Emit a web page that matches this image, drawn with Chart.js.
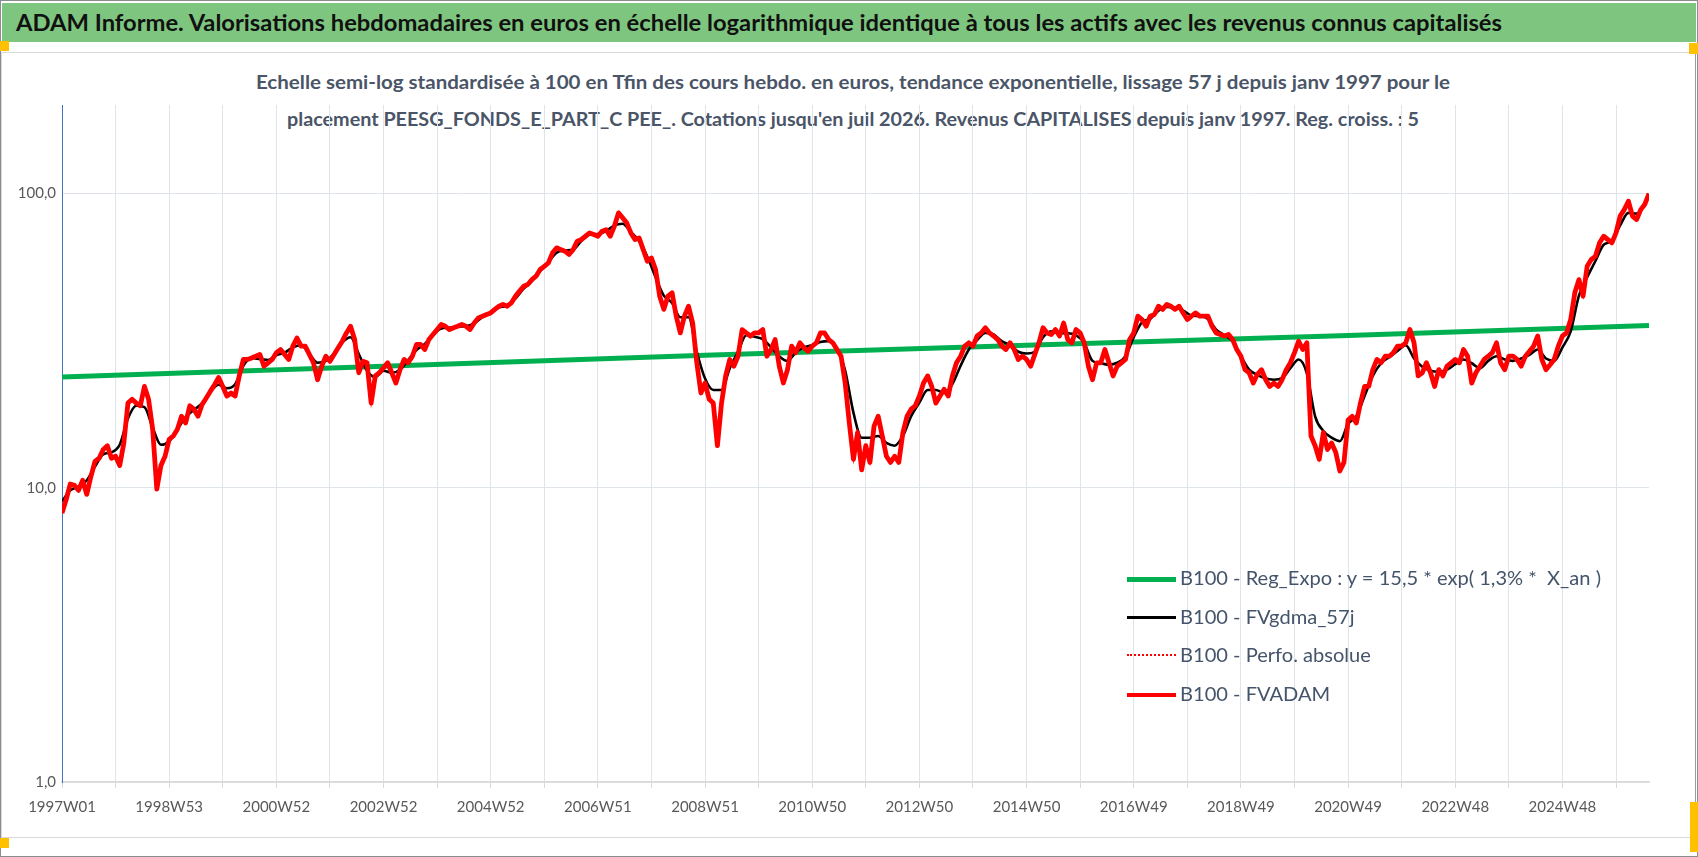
<!DOCTYPE html>
<html>
<head>
<meta charset="utf-8">
<script src="https://cdn.jsdelivr.net/npm/chart.js@4.4.1/dist/chart.umd.min.js"></script>
<style>
html,body{margin:0;padding:0;background:#fff;}
#page{position:relative;width:1698px;height:857px;overflow:hidden;background:#fff;font-family:Lato,'Open Sans',sans-serif;}
#outer{position:absolute;left:0;top:0;width:1696px;height:855px;border:1px solid #8c8c8c;}
#band{position:absolute;left:2px;top:3px;width:1694px;height:39px;background:#7ec67f;}
#title{position:absolute;left:16px;top:9px;font:bold 22px Lato;color:#111;white-space:nowrap;transform-origin:0 0;}
#frame{position:absolute;left:1px;top:52px;width:1693px;height:784px;border:1px solid #d9d9d9;border-right-color:#9a9a9a;}
.sub{position:absolute;left:853px;white-space:nowrap;font:bold 18px Lato;color:#4a5567;transform-origin:50% 50%;}
.hdl{position:absolute;background:#ffc000;}
#chartBox{position:absolute;left:0;top:0;width:1698px;height:857px;}
.lg{position:absolute;left:1127px;height:30px;}
.lg .smp{position:absolute;left:0;width:49px;top:14px;}
.lg .txt{position:absolute;left:53px;top:2px;font:20px Lato;color:#44546a;white-space:pre;transform-origin:0 50%;}
</style>
</head>
<body>
<div id="page">
  <div id="outer"></div>
  <div id="band"></div>
  <div id="title">ADAM Informe. Valorisations hebdomadaires en euros en échelle logarithmique identique à tous les actifs avec les revenus connus capitalisés</div>
  <div id="frame"></div>
  <div class="sub" id="sub1" style="top:71px">Echelle semi-log standardisée à 100 en Tfin des cours hebdo. en euros, tendance exponentielle, lissage 57 j depuis janv 1997 pour le</div>
  <div class="sub" id="sub2" style="top:108px">placement PEESG_FONDS_E_PART_C PEE_. Cotations jusqu'en juil 2026. Revenus CAPITALISES depuis janv 1997. Reg. croiss. : 5</div>
  <div id="chartBox"><canvas id="c"></canvas></div>
  <div id="legend"></div>
  <div class="hdl" style="left:0;top:41px;width:9px;height:10px"></div>
  <div class="hdl" style="left:1689px;top:43px;width:9px;height:11px"></div>
  <div class="hdl" style="left:0;top:838px;width:9px;height:10px"></div>
  <div class="hdl" style="left:1690px;top:802px;width:8px;height:50px"></div>
</div>
<script>
// week ticks: one grid line per 52 weeks, a label every 104 weeks
const tickLabels=['1997W01','1998W53','2000W52','2002W52','2004W52','2006W51','2008W51','2010W50','2012W50','2014W50','2016W49','2018W49','2020W49','2022W48','2024W48'];
const lastWeek=1540;

// B100 - FVADAM, one value every 4 weeks from 1997W01 (13 per year)
const fvadamStep=4;
const fvadam=[
 8.2,9.1,10.3,10.2,9.8,10.6,9.5,10.9,12.3,12.6,13.5,13.9,12.6,
 12.8,11.9,14.2,19.4,20.0,19.4,19.0,22.1,20.0,15.8,9.9,11.9,12.8,
 14.6,15.0,15.8,17.5,16.6,19.0,18.5,17.5,19.2,20.2,21.3,22.4,23.7,
 22.1,20.5,21.0,20.5,24.0,27.3,27.3,27.6,28.0,28.4,25.9,26.6,27.3,
 28.8,29.5,28.4,27.3,30.3,32.3,30.3,30.3,28.4,26.6,23.3,25.9,28.0,
 26.9,28.4,29.9,31.5,33.6,35.4,31.9,24.6,26.9,26.6,19.4,24.0,24.6,
 25.6,26.6,24.6,22.7,25.2,27.3,26.6,28.0,30.7,30.7,29.5,31.9,33.2,
 34.5,35.9,35.4,34.5,35.0,35.4,35.9,35.4,34.5,36.3,37.8,38.3,38.8,
 39.3,40.4,41.4,42.0,41.4,42.5,44.8,46.6,48.4,49.1,51.0,52.4,55.2,
 56.6,58.1,62.9,65.4,64.5,63.7,62.1,64.5,68.9,69.8,71.6,73.5,72.6,
 71.6,74.5,75.4,71.6,77.4,86.0,82.7,79.5,73.5,69.8,70.7,64.5,58.9,
 60.4,55.2,44.8,40.4,44.8,46.0,38.3,33.6,38.3,41.4,36.3,26.6,21.0,
 22.7,20.0,19.4,13.9,19.4,24.0,27.3,25.9,28.0,34.5,33.6,32.8,33.6,
 33.6,34.5,28.0,29.5,31.9,25.9,22.7,25.2,30.3,28.8,31.1,29.9,29.1,
 30.3,31.1,33.6,33.6,31.9,31.1,29.5,28.0,22.7,16.6,12.5,15.4,11.5,
 13.9,12.2,16.2,17.5,15.0,12.8,12.2,12.8,12.2,15.4,17.5,18.5,19.0,
 20.5,22.7,24.0,22.1,19.4,20.5,21.6,20.5,24.0,26.6,28.0,30.3,31.1,
 30.3,32.8,33.6,35.0,33.6,32.8,31.9,30.3,29.5,31.1,29.5,27.3,28.0,
 27.3,25.9,28.4,31.1,35.0,33.6,33.2,34.5,32.8,36.3,31.9,31.1,34.5,
 33.6,31.1,25.9,23.3,26.6,26.6,29.5,26.6,24.0,25.9,26.6,27.3,31.9,
 33.6,38.3,37.3,35.4,38.3,38.8,41.4,40.4,42.0,41.4,40.4,41.4,39.3,
 37.3,38.3,39.3,38.3,38.3,38.3,35.4,33.6,33.2,32.8,33.2,31.9,29.5,
 28.0,25.2,24.6,22.7,24.3,25.2,23.3,22.1,22.7,22.1,23.3,25.2,26.6,
 28.8,31.5,29.5,31.1,15.0,13.9,12.5,15.4,13.5,14.2,13.2,11.4,12.2,
 17.0,17.5,16.6,19.4,22.1,22.1,25.2,27.3,26.6,28.0,28.0,28.8,30.3,
 30.3,31.1,34.5,31.1,24.0,24.6,26.6,24.6,22.1,25.2,24.0,25.9,26.6,
 27.3,26.6,29.5,28.0,22.7,24.6,25.9,27.3,28.0,28.8,31.1,26.6,25.2,
 28.0,28.0,27.3,25.9,28.0,29.1,30.3,32.8,27.3,25.2,26.2,27.3,30.3,
 32.8,33.6,37.3,46.0,51.0,44.8,56.6,59.7,61.2,68.0,71.6,69.8,68.0,
 73.5,83.8,88.2,94.2,83.8,81.6,88.2,92.0,100.0
];
// B100 - Perfo. absolue (hidden under FVADAM in the picture)
const perfoAbsolue=fvadam;

// B100 - FVgdma_57j, one value every 8 weeks
const fvgdmaStep=8;
const fvgdma=[
 9.0,9.8,10.1,10.6,11.8,13.0,13.2,14.0,17.2,19.0,18.8,16.0,14.0,
 14.4,15.8,17.4,18.4,19.4,21.2,22.4,21.8,22.5,26.0,27.6,27.4,27.2,
 28.2,28.8,30.0,30.5,28.5,26.6,27.0,28.6,31.2,32.5,28.5,25.0,23.8,
 25.0,24.6,25.2,27.2,29.4,30.8,33.0,34.8,35.0,35.3,35.4,36.2,38.0,
 39.3,41.0,41.6,44.0,47.5,50.5,54.5,58.5,63.0,64.0,64.5,69.0,72.5,
 72.8,74.5,78.0,79.0,74.0,69.0,61.0,52.0,45.0,42.5,38.0,38.0,29.0,
 23.5,21.5,21.5,25.5,29.0,33.0,32.6,32.0,30.0,28.0,27.0,28.8,30.0,
 30.5,31.3,31.5,29.8,25.0,18.0,14.8,14.8,15.0,14.2,13.9,15.0,17.5,
 19.5,21.5,21.5,21.0,22.5,26.0,29.5,31.8,33.6,33.2,31.5,30.5,29.0,
 28.6,29.0,32.5,34.0,33.5,33.5,33.0,31.0,27.0,26.5,26.2,26.6,28.0,
 32.5,36.5,37.5,40.0,41.2,41.0,40.0,38.5,38.3,37.5,34.5,33.0,31.5,
 28.0,25.2,24.2,23.5,23.3,23.6,25.5,27.3,24.5,17.5,15.6,14.8,14.4,
 16.5,17.5,20.5,24.0,26.5,27.8,29.2,30.5,27.5,25.8,25.0,24.8,25.2,
 26.3,27.3,26.5,25.5,27.0,28.0,27.3,27.0,27.5,28.3,29.5,27.5,27.0,
 30.0,34.0,45.0,52.0,59.0,67.0,69.0,78.0,86.0,85.5,92.0
];

// B100 - Reg_Expo, read at a few weeks along the straight (semi-log) trend
const regWeeks=[0,312,624,936,1248,1540];
const regExpo=[23.8,25.9,28.2,30.5,32.9,35.6];

const legendItems=[
  {label:'B100 - Reg_Expo : y = 15,5 * exp( 1,3% *  X_an )',border:'5px solid #00b050',top:563},
  {label:'B100 - FVgdma_57j',border:'3px solid #000000',top:602},
  {label:'B100 - Perfo. absolue',border:'2px dotted #ff0000',top:640},
  {label:'B100 - FVADAM',border:'4px solid #ff0000',top:679}
];

const gridWeeks=[];
for(let w=0;w<lastWeek;w+=52) gridWeeks.push(w);

function fit(el,w){
  const n=el.getBoundingClientRect().width;
  return w/n;
}
const tEl=document.getElementById('title');
tEl.style.transform='scaleX('+fit(tEl,1486)+')';
[['sub1',1194],['sub2',1132]].forEach(([id,w])=>{
  const el=document.getElementById(id);
  const k=fit(el,w);
  el.style.transform='translateX(-50%) scaleX('+k+')';
});

const lg=document.getElementById('legend');
legendItems.forEach(it=>{
  const d=document.createElement('div');d.className='lg';d.style.top=it.top+'px';
  d.innerHTML='<div class="smp" style="border-top:'+it.border+'"></div><div class="txt">'+it.label+'</div>';
  lg.appendChild(d);
});
const first=lg.querySelector('.txt');
const lk=fit(first,421);
lg.querySelectorAll('.txt').forEach(t=>t.style.transform='scaleX('+lk+')');

const ctx=document.getElementById('c').getContext('2d');
new Chart(ctx,{
  type:'line',
  data:{datasets:[
    {label:'B100 - FVADAM',data:fvadam.map((v,i)=>({x:i*fvadamStep,y:v})),borderColor:'#ff0000',borderWidth:4.8,borderJoinStyle:'round',pointRadius:0,tension:0,order:0},
    {label:'B100 - Perfo. absolue',data:perfoAbsolue.map((v,i)=>({x:i*fvadamStep,y:v})),borderColor:'#ff0000',borderWidth:1.5,borderDash:[2,2],pointRadius:0,tension:0,order:1},
    {label:'B100 - FVgdma_57j',data:fvgdma.map((v,i)=>({x:i*fvgdmaStep,y:v})),borderColor:'#000000',borderWidth:2.6,pointRadius:0,tension:0.4,cubicInterpolationMode:'monotone',order:2},
    {label:'B100 - Reg_Expo : y = 15,5 * exp( 1,3% *  X_an )',data:regWeeks.map((w,i)=>({x:w,y:regExpo[i]})),borderColor:'#00b050',borderWidth:5,pointRadius:0,tension:0,order:3}
  ]},
  options:{
    responsive:true,maintainAspectRatio:false,animation:false,devicePixelRatio:1,
    layout:{padding:{top:105,right:49,left:0,bottom:0}},
    plugins:{legend:{display:false},tooltip:{enabled:false},title:{display:false}},
    scales:{
      x:{type:'linear',min:0,max:lastWeek,
        afterBuildTicks:s=>{s.ticks=gridWeeks.map(v=>({value:v}));},
        afterFit:s=>{s.height=75;},
        grid:{color:'#dfe3ea',lineWidth:1,drawTicks:true,tickLength:6,tickColor:'#d9d9d9'},
        border:{color:'#d9d9d9',width:1.5},
        ticks:{autoSkip:false,maxRotation:0,padding:10,color:'#595959',font:{family:'Lato',size:15},
          callback:v=>v%104===0?tickLabels[v/104]:''}
      },
      y:{type:'logarithmic',min:1,max:200,
        afterBuildTicks:s=>{s.ticks=[1,10,100].map(v=>({value:v}));},
        afterFit:s=>{s.width=62;},
        grid:{color:'#dfe3ea',lineWidth:1,drawTicks:false},
        border:{color:'#4472c4',width:1},
        ticks:{padding:6,color:'#595959',font:{family:'Lato',size:15},
          callback:v=>v.toFixed(1).replace('.',',')}
      }
    }
  }
});
</script>
</body>
</html>
